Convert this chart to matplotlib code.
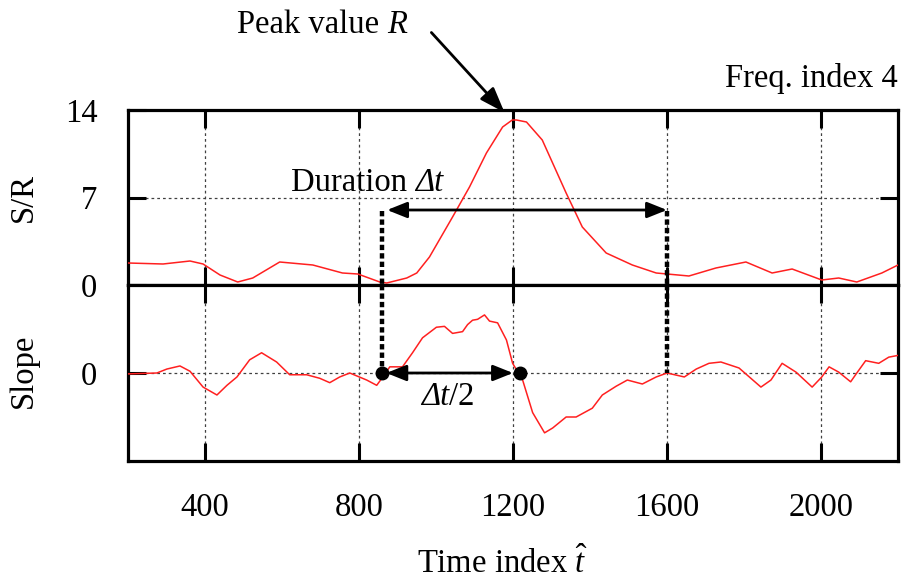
import matplotlib
matplotlib.use("Agg")
import matplotlib.pyplot as plt

plt.rcParams['font.family'] = ['Liberation Serif', 'DejaVu Serif']
plt.rcParams['mathtext.fontset'] = 'custom'
plt.rcParams['mathtext.rm'] = 'Liberation Serif'
plt.rcParams['mathtext.it'] = 'Liberation Serif:italic'
plt.rcParams['mathtext.bf'] = 'Liberation Serif:bold'

# ---- data ----
sr_t = [200, 291, 361, 395, 439, 485, 524, 594, 680, 757, 797, 854, 872, 924, 950, 983,
        1043, 1087, 1131, 1173, 1198, 1209, 1235, 1276, 1338, 1380, 1442, 1510, 1572,
        1657, 1727, 1805, 1873, 1925, 2002, 2046, 2093, 2158, 2200]
sr_v = [1.76, 1.68, 1.92, 1.68, 0.8, 0.24, 0.56, 1.84, 1.6, 0.96, 0.88, 0.24, 0.16, 0.56,
        0.96, 2.24, 5.44, 7.84, 10.56, 12.64, 13.2, 13.2, 13.04, 11.6, 7.36, 4.64, 2.56,
        1.6, 0.96, 0.72, 1.36, 1.84, 0.96, 1.28, 0.4, 0.56, 0.24, 0.96, 1.6]

sl_t = [200, 275, 301, 335, 361, 395, 431, 457, 483, 516, 547, 586, 620, 664, 698, 724,
        750, 776, 820, 846, 861, 880, 913, 939, 965, 1001, 1022, 1043, 1069, 1082, 1095,
        1108, 1126, 1139, 1160, 1183, 1199, 1225, 1251, 1282, 1303, 1338, 1364, 1406,
        1432, 1468, 1497, 1536, 1572, 1600, 1645, 1676, 1709, 1740, 1787, 1844, 1870,
        1899, 1935, 1977, 2002, 2021, 2046, 2077, 2093, 2116, 2150, 2176, 2200]
sl_v = [-0.01, 0, 0.045, 0.08, 0.02, -0.16, -0.25, -0.14, -0.045, 0.15, 0.23, 0.125,
        -0.02, -0.02, -0.06, -0.11, -0.045, 0, -0.08, -0.14, -0.05, 0.07, 0.07, 0.23, 0.4,
        0.52, 0.53, 0.45, 0.47, 0.55, 0.6, 0.61, 0.66, 0.59, 0.57, 0.375, 0.11, -0.08,
        -0.45, -0.68, -0.625, -0.5, -0.5, -0.4, -0.25, -0.15, -0.08, -0.125, -0.045, 0,
        -0.045, 0.045, 0.11, 0.125, 0.057, -0.16, -0.08, 0.11, 0.01, -0.16, -0.045, 0.07,
        0.01, -0.1, 0, 0.14, 0.11, 0.18, 0.2]

x_ticks = [400, 800, 1200, 1600, 2000]
sr_ticks = [0, 7, 14]
sl_ticks = [0]

t_start = 861      # start of event
t_end = 1600       # end of event
t_peak = 1218      # zero crossing of slope
dur_level = 6.0

# ---- figure ----
W, H = 901, 585
fig = plt.figure(figsize=(W / 100, H / 100), dpi=100)
L, R = 128 / W, 898 / W
ax1 = fig.add_axes([L, 1 - 285 / H, R - L, 175 / H])
ax2 = fig.add_axes([L, 1 - 461 / H, R - L, 176 / H], sharex=ax1)

FS = 23.5
spine_lw = 2.3
grid_kw = dict(color='0.25', linewidth=0.9, linestyle=(0, (2.2, 2.4)))

for ax in (ax1, ax2):
    for s in ax.spines.values():
        s.set_linewidth(spine_lw)
    ax.tick_params(direction='in', top=True, right=True, length=13, width=2.2,
                   labelsize=FS, pad=22)
    ax.grid(True, **grid_kw)
    ax.set_axisbelow(True)

ax1.set_xlim(200, 2200)
ax1.set_xticks(x_ticks)
ax1.set_ylim(0, 14)
ax1.set_yticks(sr_ticks)
ax1.tick_params(labelbottom=False)
ax2.set_ylim(-1, 1)
ax2.set_yticks(sl_ticks)
ax2.set_xticks(x_ticks)
ax2.tick_params(axis='x', pad=23)

ax1.plot(sr_t, sr_v, color='#ff2020', linewidth=1.1, zorder=3)
ax2.plot(sl_t, sl_v, color='#ff2020', linewidth=1.1, zorder=3)

# thick dashed verticals
dash_kw = dict(color='black', linewidth=3.2, linestyle=(0, (1.2, 0.7)), zorder=4,
               clip_on=False)
for tv in (t_start, t_end):
    ax1.plot([tv, tv], [dur_level - 0.1, 0], **dash_kw)
    ax2.plot([tv, tv], [1, 0], **dash_kw)

arrow_kw = dict(arrowstyle='<|-|>,head_length=0.55,head_width=0.22', color='black',
                lw=2.0, mutation_scale=22, shrinkA=0, shrinkB=0)
ax1.annotate('', xy=(t_start + 12, dur_level), xytext=(t_end, dur_level),
             arrowprops=arrow_kw, zorder=5)

# "Duration Δt" : regular + italic parts
d1 = ax1.text(785, 8.2, 'Duration ', fontsize=FS, ha='center', va='center', zorder=6)
ax1.annotate('Δt', xy=(1, 0), xycoords=d1, ha='left', va='bottom', fontsize=FS,
             fontstyle='italic', zorder=6)

ax2.annotate('', xy=(t_start + 10, 0), xytext=(t_peak - 18, 0),
             arrowprops=arrow_kw, zorder=5)
ax2.plot([t_start, t_peak], [0, 0], 'o', color='black', markersize=9, zorder=6)
h1 = ax2.text(997, -0.27, 'Δt', fontsize=FS, fontstyle='italic', ha='center',
              va='center', zorder=6)
ax2.annotate('/2', xy=(1, 0), xycoords=h1, ha='left', va='bottom', fontsize=FS,
             zorder=6)

# peak annotation
p1 = fig.text(312 / W, 1 - 25 / H, 'Peak value ', fontsize=FS, ha='center', va='center')
ax1.annotate('R', xy=(1, 0), xycoords=p1, ha='left', va='bottom', fontsize=FS,
             fontstyle='italic', annotation_clip=False)
ax1.annotate('', xy=(1178, 13.8), xytext=(988, 20.2),
             arrowprops=dict(arrowstyle='-|>,head_length=0.7,head_width=0.25',
                             color='black', lw=2.0, mutation_scale=22,
                             shrinkA=0, shrinkB=0),
             annotation_clip=False)

fig.text(898 / W, 1 - 78 / H, 'Freq. index 4', fontsize=FS, ha='right', va='center')
fig.text(24 / W, 1 - 197 / H, 'S/R', fontsize=FS, ha='center', va='center',
         rotation=90)
fig.text(24 / W, 1 - 371 / H, 'Slope', fontsize=FS, ha='center', va='center',
         rotation=90)
fig.text(502 / W, 1 - 563 / H, r'Time index $\hat{t}$', fontsize=FS, ha='center',
         va='center')

fig.savefig('out.png', dpi=100)
